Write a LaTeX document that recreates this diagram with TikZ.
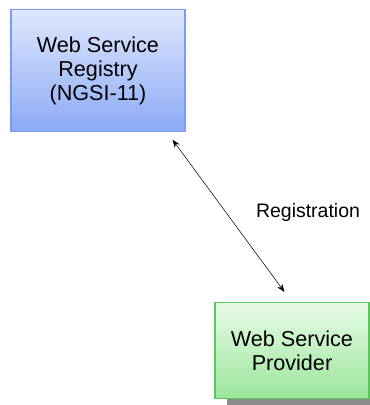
\documentclass[tikz,border=0pt]{standalone}
\usepackage{fontspec}
\setmainfont{Liberation Sans}
\usetikzlibrary{positioning,shadows,arrows.meta}

\definecolor{regtop}{HTML}{DFE7FC}
\definecolor{regbot}{HTML}{8BA9F6}
\definecolor{regline}{HTML}{7C9CF0}
\definecolor{provtop}{HTML}{E8FBE8}
\definecolor{provbot}{HTML}{9CE69C}
\definecolor{provline}{HTML}{5CC85C}

\tikzset{
  service/.style={draw,line width=0.8pt,align=center,inner sep=0pt,
    font=\fontsize{16.2}{18.2}\selectfont},
  registry/.style={service,draw=regline,top color=regtop,bottom color=regbot,
    minimum width=130.5pt,minimum height=91.3pt},
  provider/.style={service,draw=provline,top color=provtop,bottom color=provbot,
    minimum width=115.5pt,minimum height=72pt,
    drop shadow={shadow xshift=9pt,shadow yshift=-4.5pt,fill=gray!90,opacity=1}},
  link/.style={thin,{Stealth[length=6pt,width=4.5pt]}-{Stealth[length=6pt,width=4.5pt]}}
}

\begin{document}
\begin{tikzpicture}[x=0.75pt,y=-0.75pt]
\useasboundingbox (0,0) rectangle (370,405);
%\draw[] (0,0) grid[step=50] (370,405);
\node[registry] (reg) at (98,70.8) {Web Service\\Registry\\(NGSI-11)};
\node[provider] (prov) at (292,350.5) {Web Service\\Provider};
\coordinate (regend) at ([shift={(-13,7.5)}]reg.south east);
\coordinate (provend) at ([shift={(70,-10)}]prov.north west);
\draw[link] (regend) -- (provend);
\node[font=\fontsize{14.6}{16}\selectfont] (lbl) at (308,212) {Registration};
\end{tikzpicture}
\end{document}
